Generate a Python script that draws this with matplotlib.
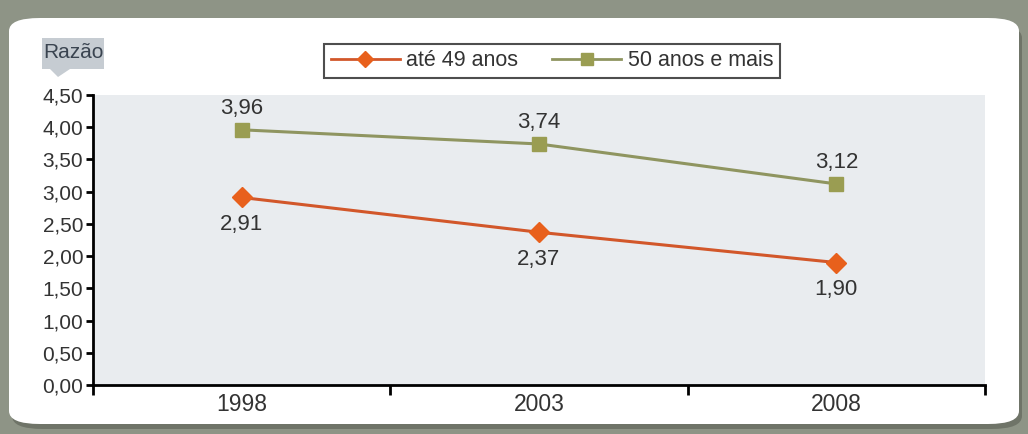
import matplotlib
matplotlib.use("Agg")
import matplotlib.pyplot as plt
from matplotlib.patches import FancyBboxPatch, Polygon
from matplotlib.lines import Line2D

years = ["1998", "2003", "2008"]
ate_49 = [2.91, 2.37, 1.90]
mais_50 = [3.96, 3.74, 3.12]
y_ticks = [0.0, 0.5, 1.0, 1.5, 2.0, 2.5, 3.0, 3.5, 4.0, 4.5]

plt.rcParams["font.family"] = ["Liberation Sans", "DejaVu Sans"]

W, H = 1028, 434
fig = plt.figure(figsize=(W / 100, H / 100), dpi=100)
fig.patch.set_facecolor("#8e9486")

# white rounded card with a soft shadow
shadow = FancyBboxPatch((12 / W, 5 / H), 1010 / W, 404 / H,
                        boxstyle="round,pad=0,rounding_size=0.03",
                        transform=fig.transFigure, facecolor="#6f7468",
                        edgecolor="none", zorder=-2)
card = FancyBboxPatch((9 / W, 10 / H), 1010 / W, 406 / H,
                      boxstyle="round,pad=0,rounding_size=0.03",
                      transform=fig.transFigure, facecolor="white",
                      edgecolor="none", zorder=-1)
fig.patches.extend([shadow, card])

ax = fig.add_axes([93 / W, 1 - 385 / H, 892 / W, 290 / H])
ax.set_zorder(1)
ax.set_facecolor("#e9ecef")
x = list(range(len(years)))

orange = "#e8601c"
green = "#9a9d52"
ax.plot(x, ate_49, color="#d2572a", lw=2.2, marker="D", ms=10,
        mfc=orange, mec=orange, zorder=3, clip_on=False)
ax.plot(x, mais_50, color="#8f9560", lw=2.2, marker="s", ms=10,
        mfc=green, mec=green, zorder=3, clip_on=False)

for xi, v in zip(x, ate_49):
    ax.annotate(f"{v:.2f}".replace(".", ","), (xi, v), xytext=(0, -12),
                textcoords="offset points", ha="center", va="top",
                fontsize=16, color="#333333")
for xi, v in zip(x, mais_50):
    ax.annotate(f"{v:.2f}".replace(".", ","), (xi, v), xytext=(0, 8),
                textcoords="offset points", ha="center", va="bottom",
                fontsize=16, color="#333333")

ax.set_xlim(-0.5, len(years) - 0.5)
ax.set_ylim(0, 4.5)
ax.set_xticks([i - 0.5 for i in range(len(years) + 1)])
ax.set_xticklabels([])
ax.set_xticks(x, minor=True)
ax.set_xticklabels(years, minor=True)
ax.tick_params(axis="x", which="major", direction="out", length=7, width=2)
ax.tick_params(axis="x", which="minor", length=0, pad=6, labelsize=16.5,
               labelcolor="#333333")
ax.set_yticks(y_ticks)
ax.set_yticklabels([f"{t:.2f}".replace(".", ",") for t in y_ticks])
ax.tick_params(axis="y", direction="out", length=5, width=2, pad=2,
               labelsize=15, labelcolor="#333333")
for s in ["top", "right"]:
    ax.spines[s].set_visible(False)
for s in ["left", "bottom"]:
    ax.spines[s].set_linewidth(2)

handles = [
    Line2D([], [], color="#d2572a", lw=2, marker="D", ms=8, mfc=orange, mec=orange),
    Line2D([], [], color="#8f9560", lw=2, marker="s", ms=8, mfc=green, mec=green),
]
leg = fig.legend(handles, ["até 49 anos", "50 anos e mais"], ncol=2,
                 loc="center", bbox_to_anchor=(552 / W, 1 - 61 / H),
                 frameon=True, fancybox=False, fontsize=15.5,
                 handlelength=3.2, columnspacing=1.6, handletextpad=0.3,
                 borderpad=0.3, labelcolor="#333333")
leg.get_frame().set_edgecolor("#222222")
leg.get_frame().set_linewidth(1.5)

# axis title tag
tag = FancyBboxPatch((42 / W, 1 - 69 / H), 62 / W, 31 / H,
                     boxstyle="square,pad=0", transform=fig.transFigure,
                     facecolor="#c6ccd2", edgecolor="none", zorder=1)
fig.patches.append(tag)
fig.patches.append(Polygon([(50 / W, 1 - 69 / H), (70 / W, 1 - 69 / H),
                            (58 / W, 1 - 77 / H)], closed=True,
                           transform=fig.transFigure, facecolor="#c6ccd2",
                           edgecolor="none", zorder=1))
fig.text(73 / W, 1 - 53 / H, "Razão", ha="center", va="center",
         fontsize=15, color="#3a4450", zorder=2)

fig.savefig("out.png", dpi=100)
